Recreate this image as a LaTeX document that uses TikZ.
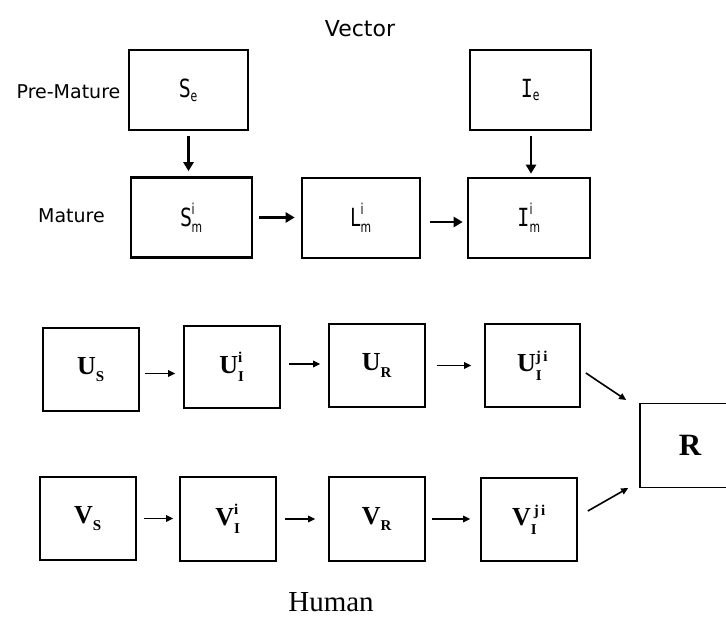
\documentclass[tikz,border=0pt]{standalone}
\usepackage{amsmath}
\usepackage{fontspec}
\setmainfont{DejaVu Sans}
\newfontfamily\tnr{Liberation Serif}
\newfontfamily\dcond[FakeStretch=0.72]{DejaVu Sans}
\newfontfamily\dmono[FakeStretch=0.8]{DejaVu Sans Mono}
\usetikzlibrary{arrows.meta}
\newcommand{\vsc}[1]{\text{\dcond\fontsize{15}{15}\selectfont #1}}
\newcommand{\hsc}[1]{\text{\tnr\bfseries\fontsize{15}{15}\selectfont #1}}
\newcommand{\hsb}[1]{\text{\raisebox{-2.5pt}{\tnr\bfseries\fontsize{15}{15}\selectfont #1}}}
\tikzset{
  vbox/.style={draw, line width=2.6pt, rectangle, inner sep=0pt, font=\dcond\fontsize{25}{29}\selectfont},
  hbox/.style={draw, line width=1.7pt, rectangle, inner sep=0pt, font=\tnr\bfseries\fontsize{26}{30}\selectfont},
  varrow/.style={line width=2.6pt, -{Triangle[length=9pt,width=10pt]}},
  harrow/.style={line width=1.6pt, -{Triangle[length=7pt,width=6.5pt]}},
  lbl/.style={inner sep=0pt, font=\fontsize{19}{23}\selectfont}
}
\begin{document}
\begin{tikzpicture}[x=1pt,y=-1pt]
\useasboundingbox (0,0) rectangle (726,617);
\clip (0,0) rectangle (726,617);
\fill[white] (0,0) rectangle (726,617);
% titles
\node[inner sep=0pt, font=\fontsize{22}{26}\selectfont] (vt) at (360,29) {Vector};
\node[lbl] (pm) at (68.5,92) {Pre-Mature};
\node[lbl] (ma) at (71.5,216) {Mature};
\node[inner sep=0pt, font=\tnr\fontsize{29}{34}\selectfont] (hu) at (331,602) {Human};
% vector boxes
\node[vbox, minimum width=119pt, minimum height=80pt] (Se) at (188.5,90) {$\text{S}_{\vsc{e}}$};
\node[vbox, minimum width=121pt, minimum height=80pt] (Ie) at (530.5,90) {$\text{\dmono I}_{\vsc{e}}$};
\node[vbox, minimum width=121pt, minimum height=80pt] (Sm) at (191.5,217.5) {$\text{S}^{\vsc{i}}_{\vsc{m}}$};
\node[vbox, minimum width=118pt, minimum height=80pt] (Lm) at (361,218) {$\text{L}^{\vsc{i}}_{\vsc{m}}$};
\node[vbox, minimum width=122pt, minimum height=80pt] (Im) at (529,218) {$\text{\dmono I}^{\vsc{i}}_{\vsc{m}}$};
% vector arrows
\draw[varrow, shorten <=5pt, shorten >=5pt] (Se.south) -- (Se.south |- Sm.north);
\draw[varrow, shorten <=5pt, shorten >=3pt] (Ie.south -| Im.north) ++(2,0) coordinate (ies) -- (ies |- Im.north);
\draw[varrow, shorten <=6pt, shorten >=6pt] (Sm.east) -- (Sm.east -| Lm.west);
\draw[varrow, shorten <=9pt, shorten >=4pt] ([yshift=-4pt]Lm.east) -- ([yshift=-4pt]Lm.east -| Im.west);
% human boxes
\node[hbox, minimum width=96pt, minimum height=83pt] (Us) at (91,369.5) {$\text{U}_{\hsb{S}}$};
\node[hbox, minimum width=96pt, minimum height=82pt] (Ui) at (232,367) {$\text{U}^{\hsc{i}}_{\hsb{I}}$};
\node[hbox, minimum width=96pt, minimum height=83pt] (UR) at (377,365.5) {$\text{U}_{\hsb{R}}$};
\node[hbox, minimum width=95pt, minimum height=83pt] (Uj) at (532.5,365.5) {$\text{U}^{\hsc{j\,i}}_{\hsb{I}}$};
\node[hbox, minimum width=100pt, minimum height=84pt, font=\tnr\bfseries\fontsize{31}{35}\selectfont] (R) at (690,445.5) {R};
\node[hbox, minimum width=96pt, minimum height=83pt] (Vs) at (88,518.5) {$\text{V}_{\hsb{S}}$};
\node[hbox, minimum width=96pt, minimum height=84pt] (Vi) at (228,519) {$\text{V}^{\hsc{i}}_{\hsb{I}}$};
\node[hbox, minimum width=96pt, minimum height=84pt] (VR) at (377,519) {$\text{V}_{\hsb{R}}$};
\node[hbox, minimum width=96pt, minimum height=83pt] (Vj) at (529,519.5) {$\text{V}_{\hsb{I}}^{\,\hsc{j\,i}}$};
% human arrows
\draw[harrow, shorten <=5pt, shorten >=8pt] ([yshift=-4pt]Us.east) -- ([yshift=-4pt]Us.east -| Ui.west);
\draw[harrow, shorten <=8pt, shorten >=8pt] ([yshift=3pt]Ui.east) -- ([yshift=3pt]Ui.east -| UR.west);
\draw[harrow, shorten <=11pt, shorten >=13pt] (UR.east) -- (UR.east -| Uj.west);
\draw[harrow, shorten <=7pt, shorten >=6pt] (Vs.east) -- (Vs.east -| Vi.west);
\draw[harrow, shorten <=8pt, shorten >=13pt] (Vi.east) -- (Vi.east -| VR.west);
\draw[harrow, shorten <=6pt, shorten >=10pt] (VR.east) -- (VR.east -| Vj.west);
\draw[harrow] ([xshift=5pt,yshift=-7.5pt]Uj.east) -- ([xshift=-13pt,yshift=45.5pt]R.west);
\draw[harrow] ([xshift=10pt,yshift=8.5pt]Vj.east) -- ([xshift=-11pt,yshift=-42.5pt]R.west);
\end{tikzpicture}
\end{document}
